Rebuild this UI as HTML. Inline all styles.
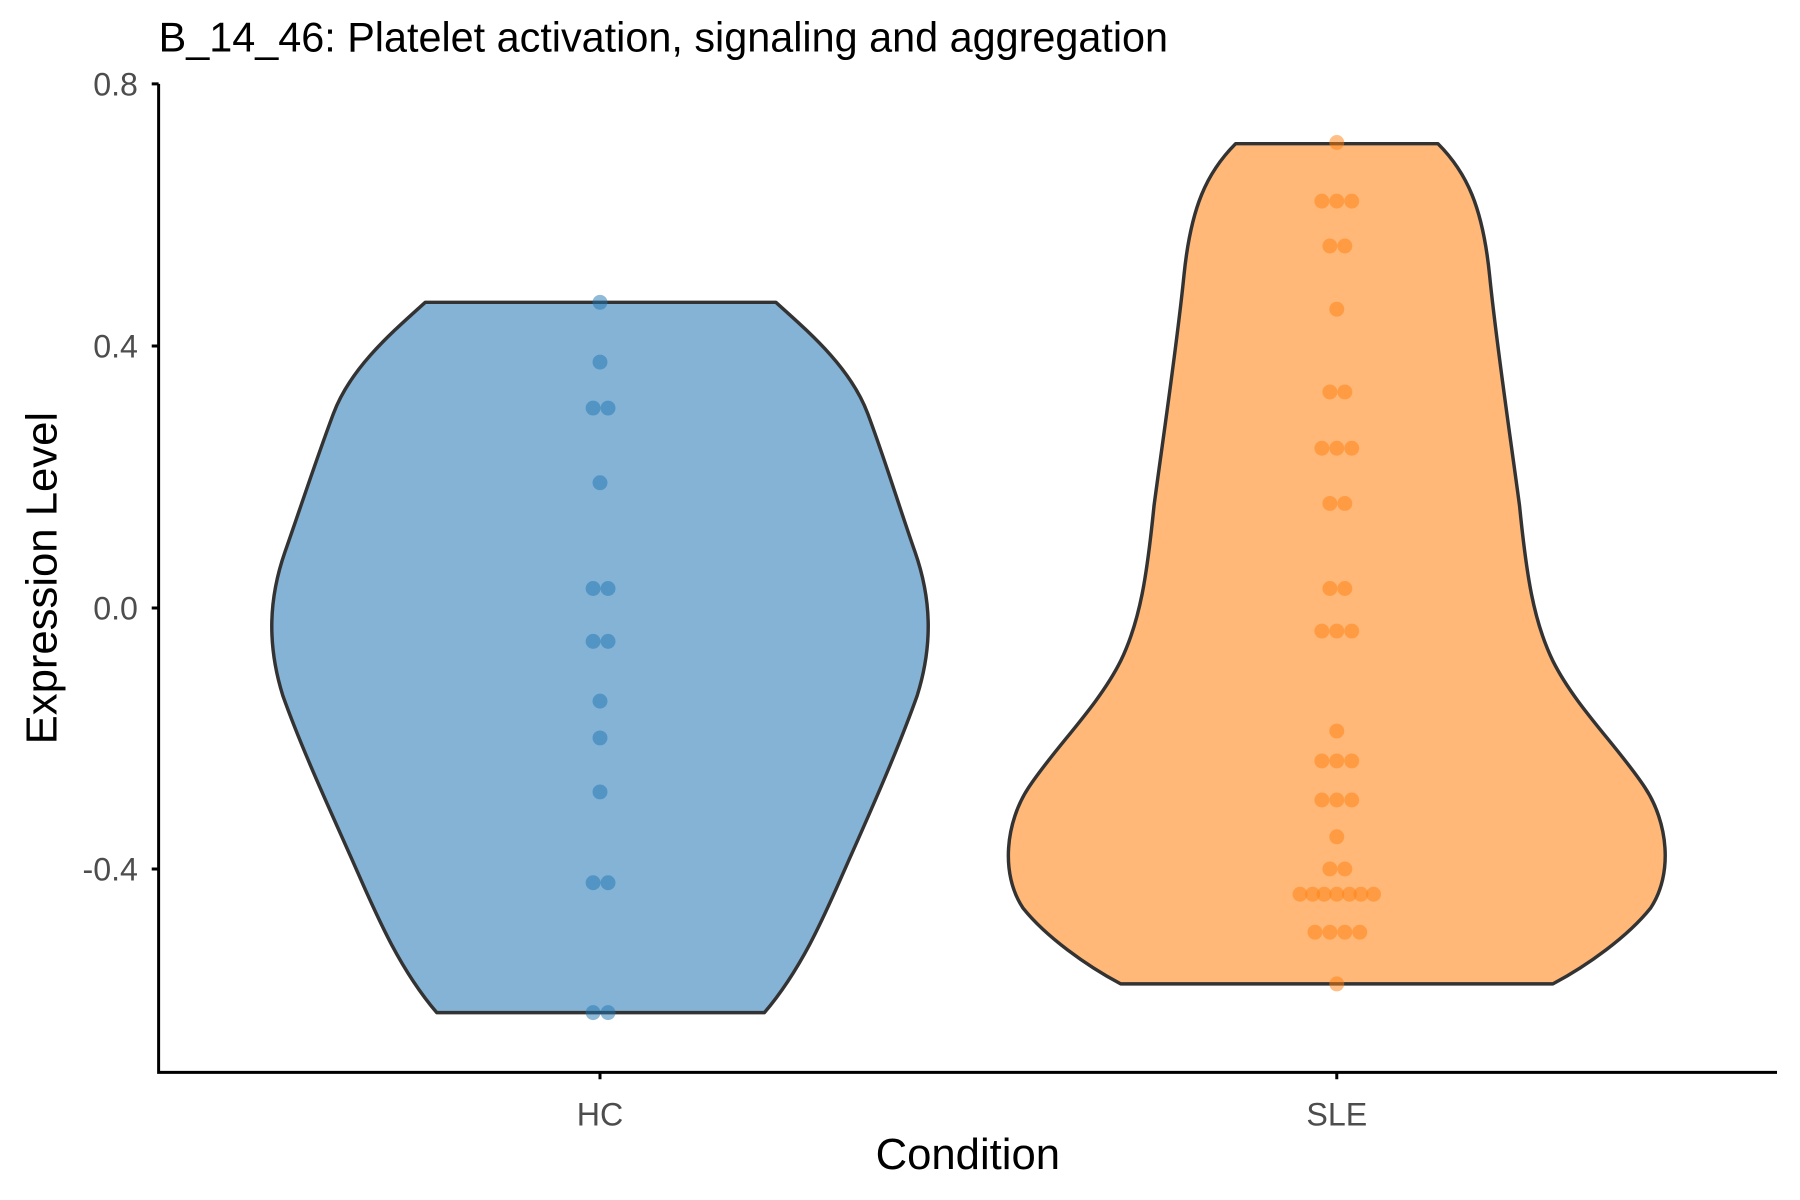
<!DOCTYPE html>
<html><head><meta charset="utf-8"><style>html,body{margin:0;padding:0;background:#fff;width:1800px;height:1200px;overflow:hidden}svg{display:block}</style></head>
<body>
<svg width="1800" height="1200" viewBox="0 0 1566 1044" preserveAspectRatio="none" xmlns="http://www.w3.org/2000/svg" font-family="Liberation Sans, Arial, sans-serif">
<rect width="1566" height="1044" fill="#fff"/>
<text x="138" y="45" font-size="36" fill="#000">B_14_46: Platelet activation, signaling and aggregation</text>
<path d="M370,263 C340,290 305,320 290,360 C275,400 262,440 248,480 C234,520 232,560 246,605 C262,650 285,700 305,745 C325,790 345,840 380,881 L665,881 C700,840 720,790 740,745 C760,700 782,650 798,605 C812,560 810,520 796,480 C782,440 770,400 755,360 C740,320 705,290 675,263 Z" fill="#85b3d6" stroke="#333" stroke-width="3" stroke-linejoin="round"/>
<path d="M1075,125 C1050,150 1036,180 1030,240 C1024,300 1012,380 1004,440 C998,500 992,540 975,575 C955,615 918,650 895,685 C875,715 870,760 890,790 C910,815 945,840 975,856 L1351,856 C1381,840 1416,815 1436,790 C1456,760 1451,715 1431,685 C1408,650 1371,615 1351,575 C1334,540 1328,500 1322,440 C1314,380 1302,300 1296,240 C1290,180 1276,150 1251,125 Z" fill="#ffb878" stroke="#333" stroke-width="3" stroke-linejoin="round"/>
<g fill="#1f77b4" fill-opacity="0.5">
<circle cx="522" cy="263" r="6.5"/><circle cx="522" cy="315" r="6.5"/>
<circle cx="516" cy="355" r="6.5"/><circle cx="529" cy="355" r="6.5"/>
<circle cx="522" cy="420" r="6.5"/>
<circle cx="516" cy="512" r="6.5"/><circle cx="529" cy="512" r="6.5"/>
<circle cx="516" cy="558" r="6.5"/><circle cx="529" cy="558" r="6.5"/>
<circle cx="522" cy="610" r="6.5"/><circle cx="522" cy="642" r="6.5"/><circle cx="522" cy="689" r="6.5"/>
<circle cx="516" cy="768" r="6.5"/><circle cx="529" cy="768" r="6.5"/>
<circle cx="516" cy="881" r="6.5"/><circle cx="529" cy="881" r="6.5"/>
</g>
<g fill="#ff7f0e" fill-opacity="0.5">
<circle cx="1163" cy="124" r="6.5"/>
<circle cx="1150" cy="175" r="6.5"/><circle cx="1163" cy="175" r="6.5"/><circle cx="1176" cy="175" r="6.5"/>
<circle cx="1157" cy="214" r="6.5"/><circle cx="1170" cy="214" r="6.5"/>
<circle cx="1163" cy="269" r="6.5"/>
<circle cx="1157" cy="341" r="6.5"/><circle cx="1170" cy="341" r="6.5"/>
<circle cx="1150" cy="390" r="6.5"/><circle cx="1163" cy="390" r="6.5"/><circle cx="1176" cy="390" r="6.5"/>
<circle cx="1157" cy="438" r="6.5"/><circle cx="1170" cy="438" r="6.5"/>
<circle cx="1157" cy="512" r="6.5"/><circle cx="1170" cy="512" r="6.5"/>
<circle cx="1150" cy="549" r="6.5"/><circle cx="1163" cy="549" r="6.5"/><circle cx="1176" cy="549" r="6.5"/>
<circle cx="1163" cy="636" r="6.5"/>
<circle cx="1150" cy="662" r="6.5"/><circle cx="1163" cy="662" r="6.5"/><circle cx="1176" cy="662" r="6.5"/>
<circle cx="1150" cy="696" r="6.5"/><circle cx="1163" cy="696" r="6.5"/><circle cx="1176" cy="696" r="6.5"/>
<circle cx="1163" cy="728" r="6.5"/>
<circle cx="1157" cy="756" r="6.5"/><circle cx="1170" cy="756" r="6.5"/>
<circle cx="1131" cy="778" r="6.5"/><circle cx="1142" cy="778" r="6.5"/><circle cx="1152" cy="778" r="6.5"/><circle cx="1163" cy="778" r="6.5"/><circle cx="1174" cy="778" r="6.5"/><circle cx="1184" cy="778" r="6.5"/><circle cx="1195" cy="778" r="6.5"/>
<circle cx="1144" cy="811" r="6.5"/><circle cx="1157" cy="811" r="6.5"/><circle cx="1170" cy="811" r="6.5"/><circle cx="1183" cy="811" r="6.5"/>
<circle cx="1163" cy="856" r="6.5"/>
</g>
<g stroke="#000" stroke-width="2.6" fill="none">
<path d="M138,73 V933 H1546"/>
<path d="M132,73 H138 M132,301 H138 M132,529 H138 M132,756 H138"/>
<path d="M522,933 V939 M1163,933 V939"/>
</g>
<g font-size="28" fill="#4d4d4d" text-anchor="end">
<text x="120" y="83">0.8</text><text x="120" y="311">0.4</text><text x="120" y="539">0.0</text><text x="120" y="766">-0.4</text>
</g>
<g font-size="28" fill="#4d4d4d" text-anchor="middle">
<text x="522" y="979">HC</text><text x="1163" y="979">SLE</text>
</g>
<text x="842" y="1017" font-size="38" text-anchor="middle" fill="#000">Condition</text>
<text transform="translate(49,503) rotate(-90)" font-size="38" text-anchor="middle" fill="#000">Expression Level</text>
</svg>
</body></html>
